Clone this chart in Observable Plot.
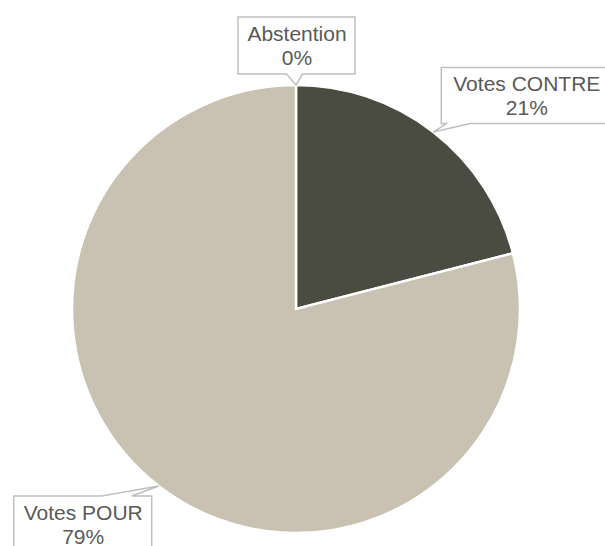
<!DOCTYPE html>
<html><head><meta charset="utf-8">
<script src="https://cdn.jsdelivr.net/npm/d3@7"></script>
<script src="https://cdn.jsdelivr.net/npm/@observablehq/plot@0.6"></script>
<style>body{margin:0;background:#fff}#chart svg{display:block}</style>
</head><body><div id="chart"></div>
<script>
// ---- data ----
const categories = ["Abstention", "Votes CONTRE", "Votes POUR"];
const values = [0, 21, 79];
const percentLabels = ["0%", "21%", "79%"];

// ---- styles / layout ----
const sliceColors = {"Abstention": "#c9c2b2", "Votes CONTRE": "#4a4b41", "Votes POUR": "#c9c2b2"};
const W = 605, H = 546, CX = 296, CY = 309, R = 224;
// callout layout: text offset from tail tip (px), box size, box offset vs text centre, tail base offsets
const calloutLayout = {
  "Abstention":   {dx: 0.5, dy: -40, w: 117, h: 57, boxDy: 0.5, side: "bottom", base: [-10, 6]},
  "Votes CONTRE": {dx: 93, dy: -37, w: 170, h: 56, boxDy: 0.5, side: "bottom", base: [-80, -56]},
  "Votes POUR":   {dx: -76, dy: 38, w: 138, h: 58, boxDy: 1, side: "top", base: [19, 49]}
};

const rows = categories.map((c, i) => ({category: c, value: values[i], label: percentLabels[i]}));
const arcs = d3.pie().sort(null).value(d => d.value)(rows);
// tail tip at mid-angle on circle, in pie units (y up)
const items = arcs.map(a => {
  const mid = (a.startAngle + a.endAngle) / 2;
  const tipX = Math.sin(mid), tipY = Math.cos(mid);
  const L = calloutLayout[a.data.category];
  return {
    ...a.data, arc: a, tipX, tipY,
    tx: tipX + L.dx / R, ty: tipY - L.dy / R,
    text: a.data.category + "\n" + a.data.label
  };
});

function pieMark(index, scales) {
  const x0 = scales.x(0), y0 = scales.y(0), r = scales.x(1) - scales.x(0);
  const arc = d3.arc().innerRadius(0).outerRadius(r);
  const g = d3.create("svg:g").attr("transform", `translate(${x0},${y0})`);
  g.selectAll("path").data(arcs).join("path")
    .attr("d", arc)
    .attr("fill", d => sliceColors[d.data.category])
    .attr("stroke", "#fff").attr("stroke-width", 2.5).attr("stroke-linejoin", "miter");
  return g.node();
}

function calloutMark(index, scales) {
  const g = d3.create("svg:g");
  for (const d of items) {
    const L = calloutLayout[d.category];
    const tx = scales.x(d.tx), ty = scales.y(d.ty);
    const px = scales.x(d.tipX), py = scales.y(d.tipY);
    const cy = ty + L.boxDy;
    const l = tx - L.w / 2, rr = tx + L.w / 2, t = cy - L.h / 2, b = cy + L.h / 2;
    const b1 = tx + L.base[0], b2 = tx + L.base[1];
    let p;
    if (L.side === "bottom") {
      p = `M${l},${t}L${rr},${t}L${rr},${b}L${b2},${b}L${px},${py}L${b1},${b}L${l},${b}Z`;
    } else {
      p = `M${l},${t}L${b1},${t}L${px},${py}L${b2},${t}L${rr},${t}L${rr},${b}L${l},${b}Z`;
    }
    g.append("path").attr("d", p).attr("fill", "#fff")
      .attr("stroke", "#bfbfbf").attr("stroke-width", 1.5);
  }
  return g.node();
}

const chart = Plot.plot({
  width: W, height: H, margin: 0,
  x: {domain: [-CX / R, (W - CX) / R], range: [0, W], axis: null},
  y: {domain: [-(H - CY) / R, CY / R], range: [H, 0], axis: null},
  style: {background: "#fff"},
  marks: [
    pieMark,
    calloutMark,
    Plot.text(items, {
      x: "tx", y: "ty", text: "text",
      fontSize: 21, lineHeight: 1.14, fill: "#595959",
      fontFamily: "'Liberation Sans', Arial, sans-serif"
    })
  ]
});
document.getElementById("chart").appendChild(chart);
</script>
</body></html>
